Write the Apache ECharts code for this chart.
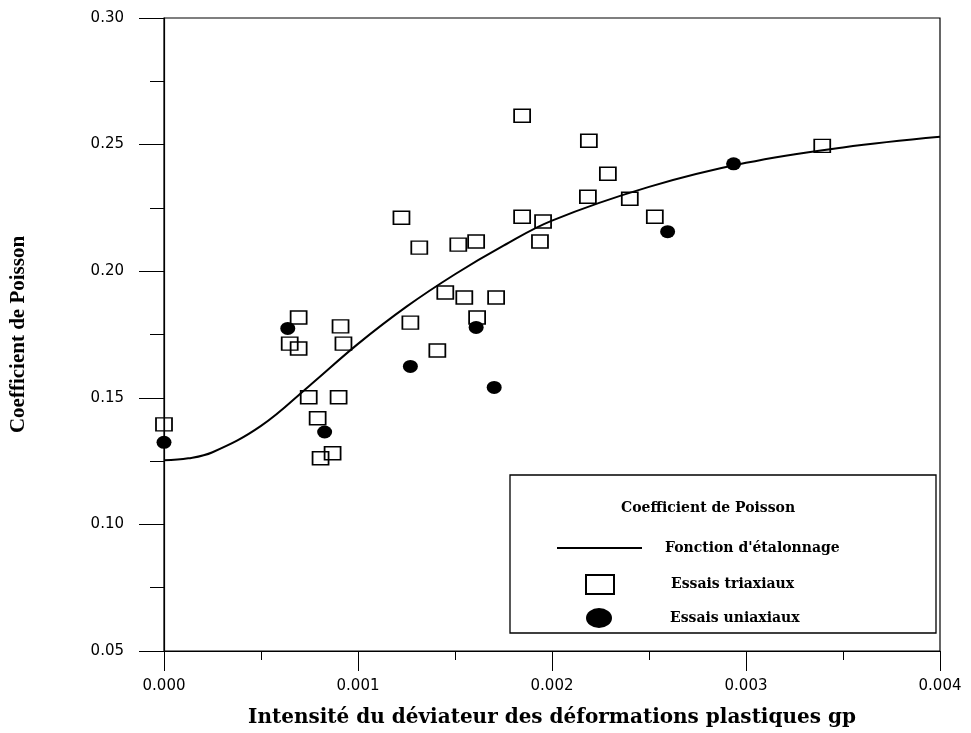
<!DOCTYPE html>
<html>
<head>
<meta charset="utf-8">
<script src="https://cdn.jsdelivr.net/npm/echarts@6/dist/echarts.min.js"></script>
<style>
  html, body { margin: 0; padding: 0; background: #fff; }
  #chart { width: 971px; height: 733px; }
</style>
</head>
<body>
<div id="chart"></div>
<script>
// courbe d'étalonnage
const curveX = [0, 0.000125, 0.00025, 0.0005, 0.00075, 0.001, 0.00125, 0.0015, 0.00175, 0.002, 0.0025, 0.003, 0.0035, 0.004];
const curveY = [0.1253, 0.1261, 0.1285, 0.1389, 0.1548, 0.1713, 0.1860, 0.1988, 0.2101, 0.2200, 0.2333, 0.2428, 0.2489, 0.2531];

// essais triaxiaux
const triX = [0, 0.000694, 0.000648, 0.000694, 0.000910, 0.000925, 0.000746, 0.000900, 0.000792, 0.000807, 0.000869,
  0.001224, 0.001316, 0.001517, 0.001609, 0.001450, 0.001548, 0.001712, 0.001270, 0.001614, 0.001409,
  0.001846, 0.001846, 0.001954, 0.001938, 0.002190, 0.002288, 0.002185, 0.002401, 0.002530, 0.003393];
const triY = [0.1395, 0.1817, 0.1714, 0.1695, 0.1782, 0.1714, 0.1502, 0.1502, 0.1419, 0.1261, 0.1281,
  0.2211, 0.2093, 0.2105, 0.2117, 0.1916, 0.1896, 0.1896, 0.1797, 0.1817, 0.1687,
  0.2614, 0.2215, 0.2196, 0.2117, 0.2515, 0.2385, 0.2294, 0.2286, 0.2215, 0.2495];

// essais uniaxiaux
const uniX = [0, 0.000638, 0.000828, 0.001270, 0.001609, 0.001702, 0.002596, 0.002936];
const uniY = [0.1324, 0.1774, 0.1365, 0.1624, 0.1778, 0.1541, 0.2156, 0.2424];

const yTicks = [0.05, 0.10, 0.15, 0.20, 0.25, 0.30];
const xTicks = [0.000, 0.001, 0.002, 0.003, 0.004];

const zip = (xs, ys) => xs.map((x, i) => [x, ys[i]]);
const ellipse = 'path://M0 10A10 10 0 1 1 20 10A10 10 0 1 1 0 10Z';
const legendText = {fontFamily: 'DejaVu Serif', fontWeight: 'bold', fontSize: 14, color: '#000'};

const chart = echarts.init(document.getElementById('chart'));

chart.setOption({
  animation: false,
  backgroundColor: '#fff',
  grid: {left: 162, top: 18, right: 31, bottom: 81, show: true, borderColor: '#000', borderWidth: 1.2},
  title: {
    text: 'Coefficient de Poisson', left: 616, top: 496,
    textStyle: {fontFamily: 'DejaVu Serif', fontWeight: 'bold', fontSize: 14, color: '#000'}
  },
  graphic: [{
    type: 'rect', z: 0,
    shape: {x: 510, y: 475, width: 426, height: 158},
    style: {fill: '#fff', stroke: '#000', lineWidth: 1.3}
  }],
  legend: [
    {data: [{name: "Fonction d'étalonnage", icon: 'rect'}], left: 552, top: 536, itemWidth: 85, itemHeight: 2,
      textStyle: Object.assign({padding: [0, 0, 0, 18]}, legendText)},
    {data: [{name: 'Essais triaxiaux', icon: 'rect'}], left: 580, top: 569, itemWidth: 28, itemHeight: 19,
      symbolKeepAspect: false,
      textStyle: Object.assign({padding: [0, 0, 0, 52]}, legendText)},
    {data: [{name: 'Essais uniaxiaux', icon: ellipse}], left: 581, top: 603, itemWidth: 26, itemHeight: 20,
      symbolKeepAspect: false,
      textStyle: Object.assign({padding: [0, 0, 0, 53]}, legendText)}
  ],
  xAxis: {
    type: 'value', min: xTicks[0], max: xTicks[xTicks.length - 1], interval: 0.001,
    name: 'Intensité du déviateur des déformations plastiques gp',
    nameLocation: 'middle', nameGap: 57,
    nameTextStyle: {fontFamily: 'DejaVu Serif', fontWeight: 'bold', fontSize: 20, color: '#000'},
    axisLine: {lineStyle: {color: '#000', width: 1.2}},
    axisTick: {length: 20, lineStyle: {color: '#000'}},
    minorTick: {show: true, splitNumber: 2, length: 9, lineStyle: {color: '#000'}},
    splitLine: {show: false},
    axisLabel: {margin: 28, color: '#000', fontFamily: 'DejaVu Sans', fontSize: 15,
      formatter: v => v.toFixed(3)}
  },
  yAxis: {
    type: 'value', min: yTicks[0], max: yTicks[yTicks.length - 1], interval: 0.05,
    name: 'Coefficient de Poisson',
    nameLocation: 'middle', nameGap: 135, nameRotate: 90,
    nameTextStyle: {fontFamily: 'Liberation Serif', fontWeight: 'bold', fontSize: 21, color: '#000'},
    axisLine: {lineStyle: {color: '#000', width: 1.2}},
    axisTick: {length: 25, lineStyle: {color: '#000'}},
    minorTick: {show: true, splitNumber: 2, length: 14, lineStyle: {color: '#000'}},
    splitLine: {show: false},
    axisLabel: {margin: 40, color: '#000', fontFamily: 'DejaVu Sans', fontSize: 15,
      formatter: v => v.toFixed(2)}
  },
  series: [
    {
      name: "Fonction d'étalonnage", type: 'line', data: zip(curveX, curveY),
      smooth: 0.4, symbol: 'none', z: 2,
      lineStyle: {color: '#000', width: 2},
      itemStyle: {color: '#000'}
    },
    {
      name: 'Essais triaxiaux', type: 'scatter', data: zip(triX, triY),
      symbol: 'rect', symbolSize: [16, 13], z: 3,
      itemStyle: {color: 'rgba(255,255,255,0)', borderColor: '#000', borderWidth: 1.6, opacity: 1}
    },
    {
      name: 'Essais uniaxiaux', type: 'scatter', data: zip(uniX, uniY),
      symbol: ellipse, symbolSize: [15, 13], z: 4,
      itemStyle: {color: '#000', opacity: 1}
    }
  ]
});
</script>
</body>
</html>
